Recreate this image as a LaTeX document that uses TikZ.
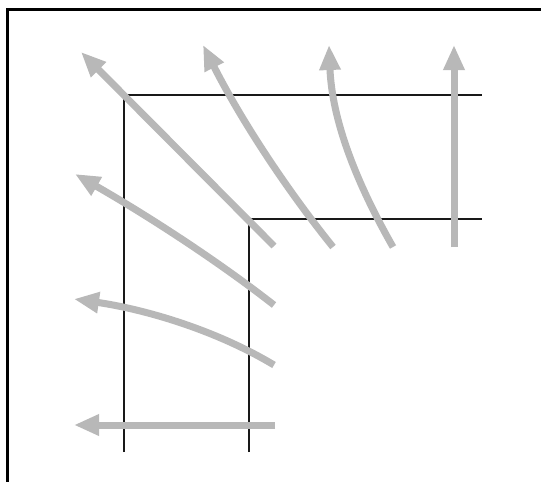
\documentclass[tikz,border=0pt]{standalone}
\usetikzlibrary{arrows.meta}
\begin{document}
\begin{tikzpicture}[
		x=1pt,y=-1pt,
		frame/.style={line width=2.2pt,draw=black},
		wall/.style={line width=2pt,draw=black!90},
		flow/.style={-{Triangle[length=25pt,width=20pt]},line width=7pt,draw=black!28}
		]
		\useasboundingbox (0,0) rectangle (541,482);
		\clip (0,0) rectangle (541,482);
		\fill[white] (0,0) rectangle (541,482);
		\draw[frame] (7.5,9.5) rectangle (560,500);
		
		\draw[wall] (124,452) -- (124,95) -- (482,95);
		\draw[wall] (249,452) -- (249,219) -- (482,219);
		
		\draw[flow] (274,246) -- (81,52);
		\draw[flow] (333,247) .. controls (283,185) and (239,116) .. (203,45);
		\draw[flow] (393,247) .. controls (356,182) and (332,120) .. (329,45);
		\draw[flow] (454,247) -- (454,45);
		\draw[flow] (274,305) .. controls (219,262) and (150,217) .. (75,174);
		\draw[flow] (274,365) .. controls (214,329) and (143,309) .. (74,299);
		\draw[flow] (275,425) -- (74,425);
\end{tikzpicture}
\end{document}
